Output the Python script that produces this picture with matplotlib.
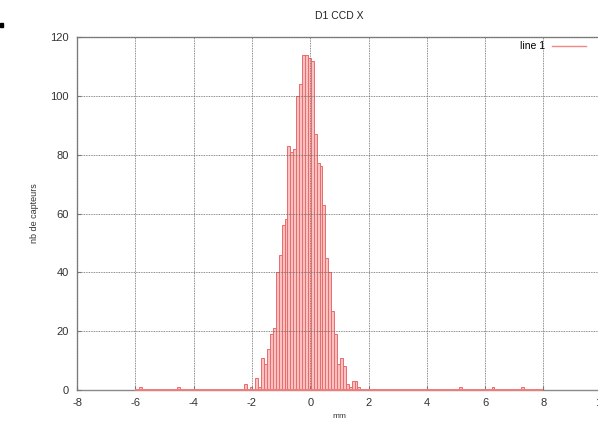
import numpy as np
import matplotlib.pyplot as plt
from matplotlib.lines import Line2D
from matplotlib.patches import Rectangle

plt.rcParams['font.family'] = ['Liberation Sans', 'DejaVu Sans']
plt.rcParams['axes.unicode_minus'] = False

# histogram of D1 CCD X (bin width 0.1 mm)
bin_centers = [-5.83, -4.53,
               -2.23, -2.13, -2.03, -1.93, -1.83, -1.73, -1.63, -1.53, -1.43, -1.33,
               -1.23, -1.13, -1.03, -0.93, -0.83, -0.73, -0.63, -0.53, -0.43, -0.33,
               -0.23, -0.13, -0.03, 0.07, 0.17, 0.27, 0.37, 0.47, 0.57, 0.67,
               0.77, 0.87, 0.97, 1.07, 1.17, 1.27, 1.37, 1.47, 1.57, 1.67,
               5.17, 6.27, 7.27]
counts = [1, 1,
          2, 0, 1, 0, 4, 1, 11, 9, 14, 19,
          21, 40, 46, 56, 58, 83, 81, 82, 100, 104,
          114, 114, 113, 112, 87, 77, 76, 63, 45, 40,
          27, 19, 9, 11, 8, 2, 1, 3, 3, 1,
          1, 1, 1]
bin_width = 0.1
hist_range = (-6, 8)

x_ticks = [-8, -6, -4, -2, 0, 2, 4, 6, 8, 10]
y_ticks = [0, 20, 40, 60, 80, 100, 120]

fig = plt.figure(figsize=(5.98, 4.22), dpi=100)
ax = fig.add_axes([77 / 598, 32 / 422, 524.7 / 598, 353 / 422])

red = '#ec6a6a'
ax.bar(bin_centers, counts, width=bin_width, facecolor='#f9c2c2',
       edgecolor=red, linewidth=0.7, zorder=1)
ax.hlines(0, hist_range[0], hist_range[1], color='#f07c7c', linewidth=1.4,
          zorder=3, clip_on=False)

ax.set_xlim(-8, 10)
ax.set_ylim(0, 120)
ax.set_xticks(x_ticks)
ax.set_yticks(y_ticks)
ax.tick_params(direction='in', length=3, color='#777777', labelsize=8,
               labelcolor='#333333', pad=6)
ax.grid(True, color='#666666', linestyle=(0, (1, 1)), linewidth=0.6)
ax.set_axisbelow(False)
for s in ax.spines.values():
    s.set_color('#8a8a8a')
    s.set_linewidth(1)

ax.set_title('D1 CCD X', fontsize=7.5, color='#222222', pad=13)
ax.set_xlabel('mm', fontsize=6, color='#333333', labelpad=3)
ax.set_ylabel('nb de capteurs', fontsize=6.5, color='#333333', labelpad=8)

handle = Line2D([], [], color='#f08888', linewidth=1)
fig.legend([handle], ['line 1'], loc='upper right', frameon=False,
           markerfirst=False, fontsize=7.5, handlelength=3.2,
           bbox_to_anchor=(590 / 598, 1 - 37 / 422), borderaxespad=0,
           handletextpad=0.7)

# small black mark in the top left corner
fig.add_artist(Rectangle((0, 1 - 27 / 422), 3 / 598, 4 / 422,
                         transform=fig.transFigure, color='black'))

fig.savefig('out.png', dpi=100)
